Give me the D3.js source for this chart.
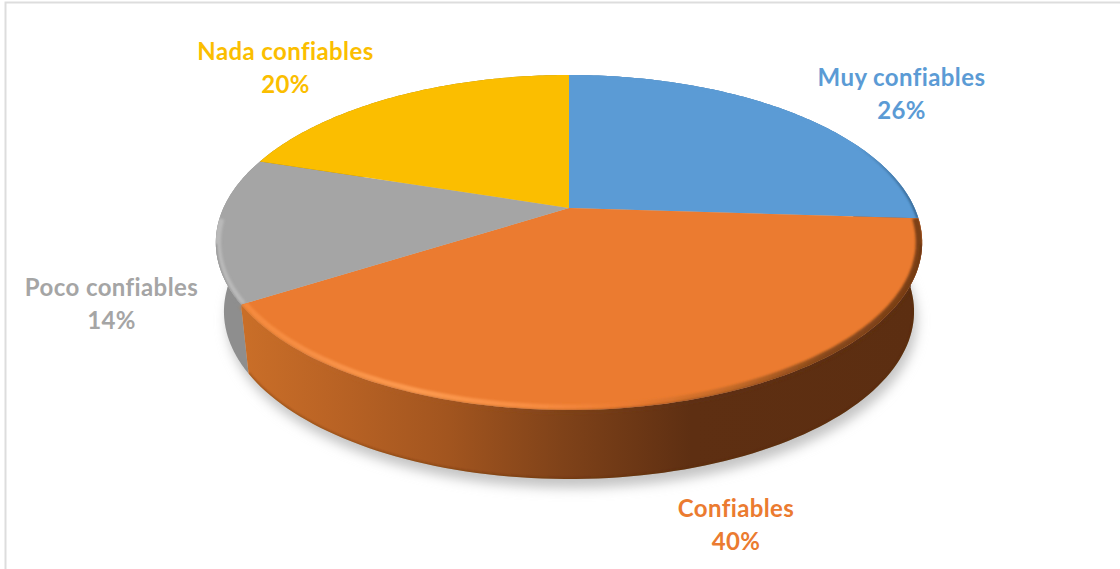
<!DOCTYPE html>
<html lang="es">
<head>
<meta charset="utf-8">
<title>Confiabilidad</title>
<script src="https://cdn.jsdelivr.net/npm/d3@7/dist/d3.min.js"></script>
<style>
  html, body { margin: 0; padding: 0; background: #fff; }
  svg { display: block; }
  text { font-family: Lato, "Open Sans", sans-serif; font-weight: 700; font-variant-ligatures: none; letter-spacing: 0.4px; }
</style>
</head>
<body>
<svg id="chart" width="1120" height="569"></svg>
<script>
// Chart values
const categories = ["Muy confiables", "Confiables", "Poco confiables", "Nada confiables"];
const shares = [26, 40, 14, 20];
const percentLabels = ["26%", "40%", "14%", "20%"];
const sliceColors = ["#5B9BD5", "#EB7B30", "#A5A5A5", "#FBBE00"];

// Label layout, in category order: centre x, first baseline y
const labelX = [901.5, 736, 111.5, 285.5];
const labelY = [86, 517, 296, 60];

// Tilted disc geometry
const width = 1120, height = 569;
const hub = { x: 569, y: 208 };
const perspective = 0.206, spreadX = 345.6, spreadY = 160.4;
const wallDrop = 69, wallShrink = 0.977;

// Angles where the rim turns from far edge to near edge, on each side
const silhouetteRight = Math.acos(-perspective);
const silhouetteLeft = 2 * Math.PI - silhouetteRight;

// Projects an angle (clockwise from the top) at radius r and depth d onto the page
function project(angle, r = 1, d = 0) {
  const u = r * Math.sin(angle), v = r * Math.cos(angle);
  const w = 1 + perspective * v;
  const s = 1 + (wallShrink - 1) * d;
  return [hub.x + s * spreadX * u / w, hub.y + wallDrop * d - spreadY * v / w];
}

const angles = (a0, a1) => d3.range(0, 97).map(i => a0 + (a1 - a0) * i / 96);
const line = d3.line();
const svg = d3.select("#chart");
const defs = svg.append("defs");

function blur(id, sd) {
  defs.append("filter").attr("id", id)
    .attr("filterUnits", "userSpaceOnUse")
    .attr("x", 0).attr("y", 0).attr("width", width).attr("height", height)
    .append("feGaussianBlur").attr("stdDeviation", sd);
}
blur("soft1", 1.2);
blur("soft2", 1.6);
blur("soft6", 6);

function hGradient(id, x1, x2, stops) {
  const g = defs.append("linearGradient").attr("id", id)
    .attr("gradientUnits", "userSpaceOnUse")
    .attr("x1", x1).attr("x2", x2).attr("y1", 0).attr("y2", 0);
  stops.forEach(([o, c]) => g.append("stop").attr("offset", o).attr("stop-color", c));
}

// Wall shading, lit from the left
const wallFills = {
  0: "#3f6f9c",
  2: "#8e8e8e",
  3: "#a88300"
};
hGradient("wall-orange", 245, 921, [
  [0, "#c96e28"], [0.12, "#bb6425"], [0.3, "#a2551f"], [0.47, "#7f4219"],
  [0.66, "#5e2f12"], [1, "#5c2e11"]
]);
hGradient("rim-orange", 245, 921, [
  [0, "#f58a3e"], [0.1, "#f78f45"], [0.25, "#fd9a50"], [0.42, "#f88d42"],
  [0.56, "#ec7c31"], [0.72, "#c46a28"], [0.86, "#8a4a1c"], [1, "#7a3f18"]
]);
hGradient("rim-blue", 700, 921, [
  [0, "#5B9BD5"], [0.7, "#5B9BD5"], [0.92, "#3a6c99"], [1, "#2e5a82"]
]);

// Frame lines along the top and left
svg.append("path")
  .attr("d", `M5.5,${height}V2.5H${width}`)
  .attr("fill", "none").attr("stroke", "#dddddd").attr("stroke-width", 2);

const pie = d3.pie().sort(null).startAngle(0).endAngle(2 * Math.PI);
const slices = pie(shares);
const full = angles(0, 2 * Math.PI);

// Soft shadow cast by the disc
svg.append("path")
  .attr("d", line(full.map(a => project(a, 1, 1))) + "Z")
  .attr("transform", "translate(3,9)")
  .attr("fill", "#c4c4c4")
  .attr("filter", "url(#soft6)");

// Side walls, far ones first
function wallOutline(s) {
  const as = angles(s.startAngle, s.endAngle);
  return line(as.map(a => project(a, 1, 0)).concat(as.slice().reverse().map(a => project(a, 1, 1)))) + "Z";
}
const wallOrder = [3, 0, 2, 1];
wallOrder.forEach(i => {
  svg.append("path")
    .attr("d", wallOutline(slices[i]))
    .attr("fill", i === 1 ? "url(#wall-orange)" : wallFills[i]);
});

// Keeps soft rim strokes inside the solid
const solidClip = defs.append("clipPath").attr("id", "clip-solid");
solidClip.append("path").attr("d", line(full.map(a => project(a))) + "Z");
slices.forEach(s => solidClip.append("path").attr("d", wallOutline(s)));

// Darkened lower lip of the front wall
const frontSlice = slices[1];
defs.append("clipPath").attr("id", "clip-wall").append("path").attr("d", wallOutline(frontSlice));
svg.append("path")
  .attr("clip-path", "url(#clip-wall)")
  .attr("d", line(angles(frontSlice.startAngle, frontSlice.endAngle).map(a => project(a, 1, 1))))
  .attr("fill", "none").attr("stroke", "#5a2c10").attr("stroke-opacity", 0.4)
  .attr("stroke-width", 2.5).attr("filter", "url(#soft1)");

// Top faces, each with a bevelled rim clipped to its own slice
slices.forEach((s, i) => {
  const arc = angles(s.startAngle, s.endAngle);
  const face = [project(0, 0)].concat(arc.map(a => project(a)));
  const facePath = line(face) + "Z";
  defs.append("clipPath").attr("id", `clip-face-${i}`).append("path").attr("d", facePath);
  svg.append("path").attr("d", facePath).attr("fill", sliceColors[i]);

  const clipped = svg.append("g").attr("clip-path", `url(#clip-face-${i})`);
  if (i === 1) {
    clipped.append("path").attr("d", line(arc.map(a => project(a, 0.992)))).attr("fill", "none")
      .attr("stroke", "url(#rim-orange)").attr("stroke-width", 7).attr("filter", "url(#soft1)");
  } else if (i === 2) {
    clipped.append("path").attr("d", line(angles(s.startAngle, silhouetteLeft + 0.14).map(a => project(a, 0.994))))
      .attr("fill", "none").attr("stroke", "#b9b9b9").attr("stroke-width", 6).attr("filter", "url(#soft1)");
  } else if (i === 0) {
    clipped.append("path").attr("d", line(arc.map(a => project(a, 0.998)))).attr("fill", "none")
      .attr("stroke", "url(#rim-blue)").attr("stroke-width", 2.5).attr("filter", "url(#soft1)");
  }
});

// Soft seam where the near rim meets the wall
const seams = svg.append("g").attr("clip-path", "url(#clip-solid)");
seams.append("path")
  .attr("d", line(angles(silhouetteRight, frontSlice.endAngle).map(a => project(a, 1, 0.025))))
  .attr("fill", "none").attr("stroke", "url(#wall-orange)").attr("stroke-width", 2.5)
  .attr("filter", "url(#soft2)");
seams.append("path")
  .attr("d", line(angles(slices[2].startAngle, silhouetteLeft).map(a => project(a, 1, 0.02))))
  .attr("fill", "none").attr("stroke", wallFills[2]).attr("stroke-width", 2)
  .attr("filter", "url(#soft1)");

// Category and percentage labels
const labels = svg.selectAll("g.label").data(categories).join("g").attr("class", "label");
labels.append("text")
  .attr("x", (d, i) => labelX[i]).attr("y", (d, i) => labelY[i])
  .attr("text-anchor", "middle").attr("font-size", 24)
  .attr("fill", (d, i) => sliceColors[i])
  .text(d => d);
labels.append("text")
  .attr("x", (d, i) => labelX[i]).attr("y", (d, i) => labelY[i] + 33)
  .attr("text-anchor", "middle").attr("font-size", 24)
  .attr("fill", (d, i) => sliceColors[i])
  .text((d, i) => percentLabels[i]);
</script>
</body>
</html>
